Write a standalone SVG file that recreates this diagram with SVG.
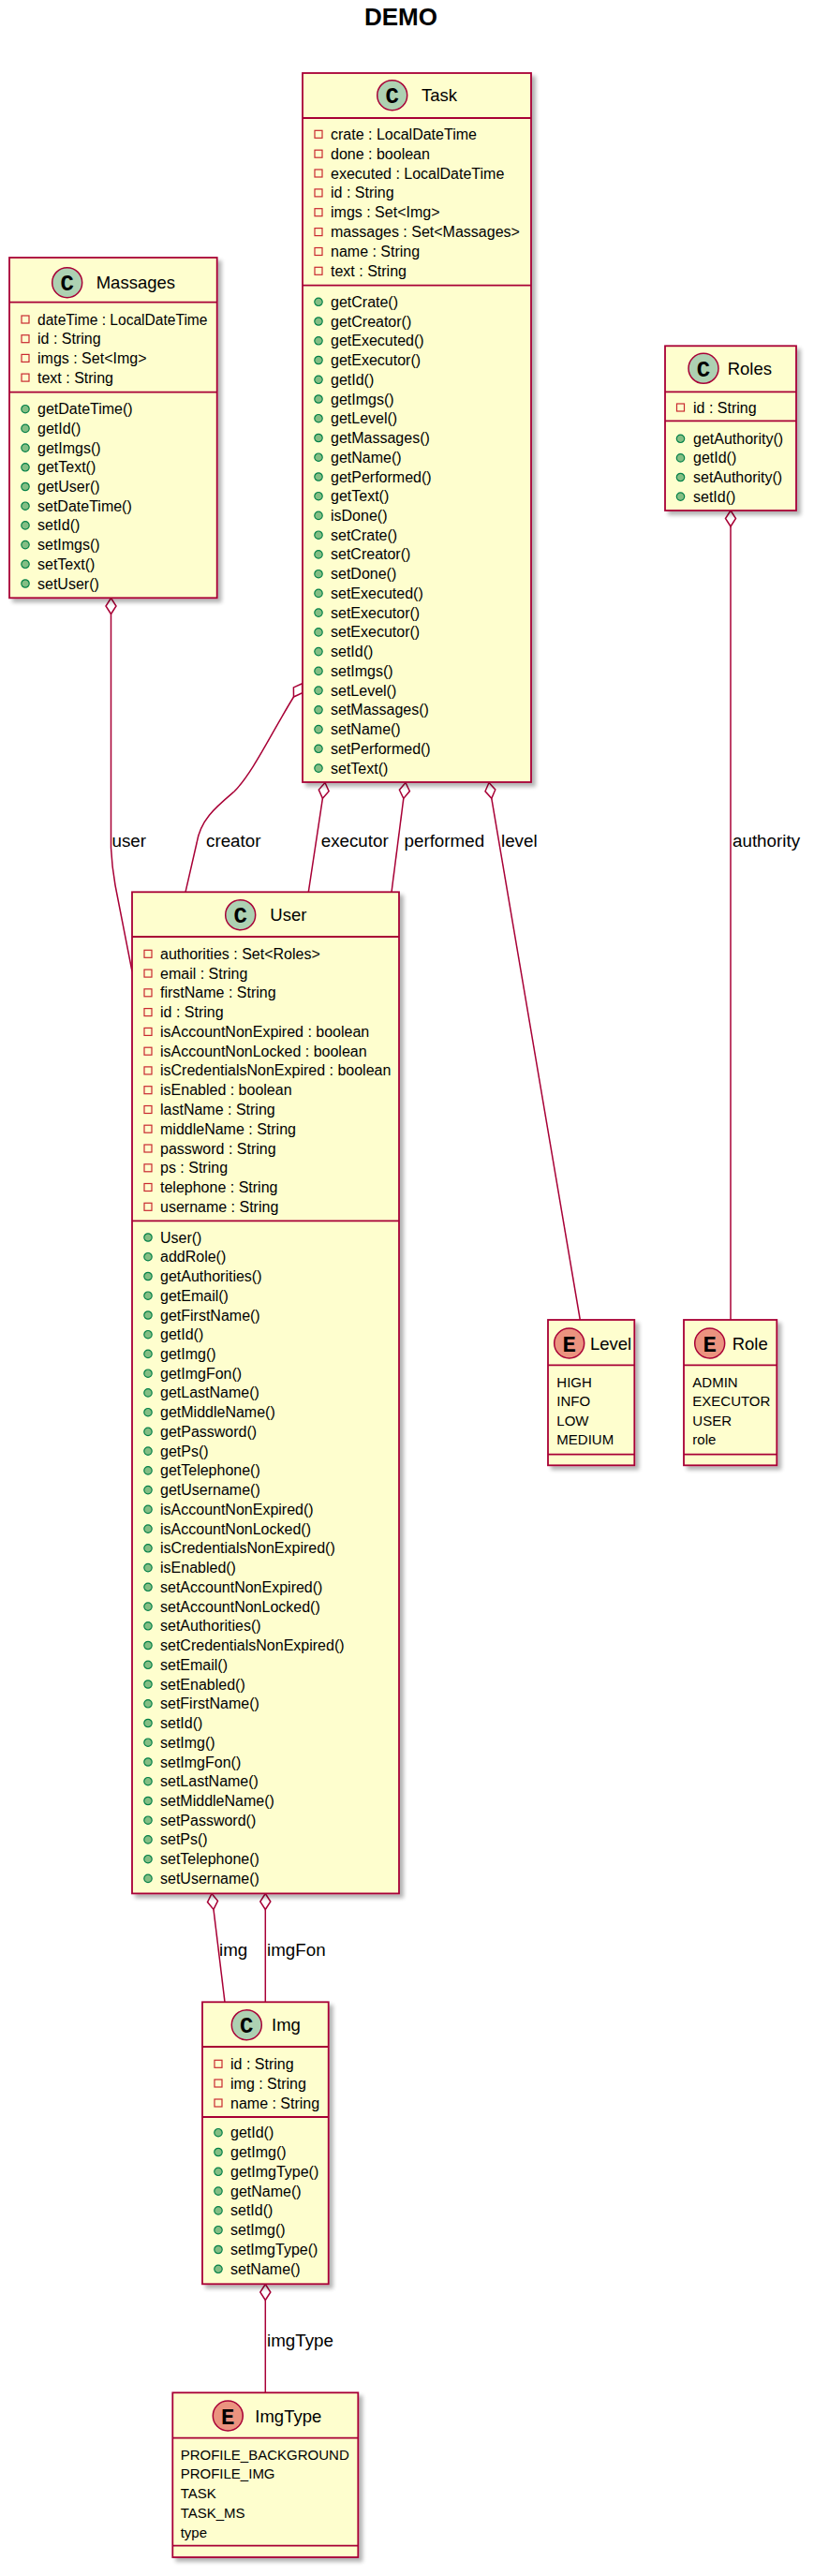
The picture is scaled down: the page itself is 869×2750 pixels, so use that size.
<svg xmlns="http://www.w3.org/2000/svg" xmlns:xlink="http://www.w3.org/1999/xlink" width="869" height="2750" viewBox="0 0 869 2750">
<style>
.box{fill:#FEFECE;stroke:#A80036;stroke-width:1.8}
.sep{stroke:#A80036;stroke-width:1.8}
text{font-family:"Liberation Sans",Arial,sans-serif;fill:#000}
.m{font-size:16px}
.n{font-size:18.5px}
.lbl{font-size:18.8px}
.ev{font-size:15px}
.cc{fill:#ADD1B2;stroke:#A80036;stroke-width:1.5}
.ce{fill:#EB937F;stroke:#A80036;stroke-width:1.5}
.ch{font-family:"Liberation Mono","Courier New",monospace;font-weight:bold;font-size:24px;text-anchor:middle}
.edge{fill:none;stroke:#A80036;stroke-width:1.5}
.dia{fill:#FFFFFF;stroke:#A80036;stroke-width:1.5}
.title{font-size:26px;font-weight:bold;text-anchor:middle}
</style>
<defs>
<filter id="sh" x="-10%" y="-5%" width="130%" height="115%">
<feGaussianBlur in="SourceAlpha" stdDeviation="2"/>
<feOffset dx="4" dy="4"/>
<feComponentTransfer><feFuncA type="linear" slope="0.3"/></feComponentTransfer>
<feMerge><feMergeNode/><feMergeNode in="SourceGraphic"/></feMerge>
</filter>
<rect id="ia" x="0" y="-4" width="8" height="8" fill="none" stroke="#C82930" stroke-width="1.2"/>
<circle id="im" cx="4" cy="0" r="4.2" fill="#84BE84" stroke="#038048" stroke-width="1.2"/>
</defs>
<rect width="869" height="2750" fill="#FFFFFF"/>
<text class="title" x="428" y="27.3">DEMO</text>

<g id="connectors">
<!-- user -->
<path class="edge" d="M118.5,655.5 L118.5,905 Q119.5,925 123,945 L141,1037"/>
<polygon class="dia" points="118.5,638.5 124,647 118.5,655.5 113,647"/>
<text class="lbl" x="119.5" y="903.5">user</text>
<!-- creator -->
<path class="edge" d="M313.5,744 C290,782 270,825 250,845 C230,862 214,875 210,900 L198,952.3"/>
<polygon class="dia" points="322.6,729.7 322.7,739.8 313.5,744 313.4,733.9"/>
<text class="lbl" x="220" y="903.5">creator</text>
<!-- executor -->
<path class="edge" d="M344.4,852.3 L329.3,952.3"/>
<polygon class="dia" points="347,835.5 351.1,844.7 344.4,852.3 340.3,843.1"/>
<text class="lbl" x="342.7" y="903.5">executor</text>
<!-- performed -->
<path class="edge" d="M430.8,852.4 L418,952.3"/>
<polygon class="dia" points="433,835.5 437.4,844.6 430.8,852.4 426.4,843.2"/>
<text class="lbl" x="431.5" y="903.5">performed</text>
<!-- level -->
<path class="edge" d="M524.8,852.3 L619.3,1409"/>
<polygon class="dia" points="522,835.5 528.8,843 524.8,852.3 518,844.8"/>
<text class="lbl" x="535" y="903.5">level</text>
<!-- authority -->
<path class="edge" d="M780,562 L780,1409"/>
<polygon class="dia" points="780,545 785.5,553.5 780,562 774.5,553.5"/>
<text class="lbl" x="782" y="903.5">authority</text>
<!-- img -->
<path class="edge" d="M228,2038.4 L240,2137.3"/>
<polygon class="dia" points="226,2021.5 232.5,2029.3 228,2038.4 221.5,2030.6"/>
<text class="lbl" x="234" y="2088">img</text>
<!-- imgFon -->
<path class="edge" d="M283.3,2038.5 L283.3,2137.3"/>
<polygon class="dia" points="283.3,2021.5 288.8,2030 283.3,2038.5 277.8,2030"/>
<text class="lbl" x="285" y="2088">imgFon</text>
<!-- imgType -->
<path class="edge" d="M283.3,2455.5 L283.3,2554.3"/>
<polygon class="dia" points="283.3,2438.5 288.8,2447 283.3,2455.5 277.8,2447"/>
<text class="lbl" x="285" y="2505">imgType</text>
</g>

<g id="Massages">
<rect class="box" filter="url(#sh)" x="10" y="275" width="221.7" height="363.3"/>
<line class="sep" x1="10" y1="322.7" x2="231.7" y2="322.7"/>
<line class="sep" x1="10" y1="418.7" x2="231.7" y2="418.7"/>
<circle class="cc" cx="71.7" cy="301.7" r="16"/>
<text class="ch" x="71.7" y="310.2">C</text>
<text class="n" x="102.7" y="308.2">Massages</text>
<use xlink:href="#ia" x="23" y="341"/><text class="m" x="40" y="346.5" textLength="181.5" lengthAdjust="spacingAndGlyphs">dateTime : LocalDateTime</text>
<use xlink:href="#ia" x="23" y="361.7"/><text class="m" x="40" y="367.2">id : String</text>
<use xlink:href="#ia" x="23" y="382.4"/><text class="m" x="40" y="387.9">imgs : Set&lt;Img&gt;</text>
<use xlink:href="#ia" x="23" y="403.1"/><text class="m" x="40" y="408.6">text : String</text>
<use xlink:href="#im" x="23" y="436.7"/><text class="m" x="40" y="442.2">getDateTime()</text>
<use xlink:href="#im" x="23" y="457.4"/><text class="m" x="40" y="462.9">getId()</text>
<use xlink:href="#im" x="23" y="478.1"/><text class="m" x="40" y="483.6">getImgs()</text>
<use xlink:href="#im" x="23" y="498.8"/><text class="m" x="40" y="504.3">getText()</text>
<use xlink:href="#im" x="23" y="519.5"/><text class="m" x="40" y="525">getUser()</text>
<use xlink:href="#im" x="23" y="540.2"/><text class="m" x="40" y="545.7">setDateTime()</text>
<use xlink:href="#im" x="23" y="560.9"/><text class="m" x="40" y="566.4">setId()</text>
<use xlink:href="#im" x="23" y="581.6"/><text class="m" x="40" y="587.1">setImgs()</text>
<use xlink:href="#im" x="23" y="602.3"/><text class="m" x="40" y="607.8">setText()</text>
<use xlink:href="#im" x="23" y="623"/><text class="m" x="40" y="628.5">setUser()</text>
</g>

<g id="Task">
<rect class="box" filter="url(#sh)" x="323" y="78" width="244" height="757"/>
<line class="sep" x1="323" y1="126" x2="567" y2="126"/>
<line class="sep" x1="323" y1="304.7" x2="567" y2="304.7"/>
<circle class="cc" cx="418.7" cy="101.7" r="16"/>
<text class="ch" x="418.7" y="110.2">C</text>
<text class="n" x="450" y="108.2">Task</text>
<use xlink:href="#ia" x="336" y="143.3"/><text class="m" x="353" y="148.8">crate : LocalDateTime</text>
<use xlink:href="#ia" x="336" y="164.2"/><text class="m" x="353" y="169.7">done : boolean</text>
<use xlink:href="#ia" x="336" y="185"/><text class="m" x="353" y="190.5">executed : LocalDateTime</text>
<use xlink:href="#ia" x="336" y="205.9"/><text class="m" x="353" y="211.4">id : String</text>
<use xlink:href="#ia" x="336" y="226.7"/><text class="m" x="353" y="232.2">imgs : Set&lt;Img&gt;</text>
<use xlink:href="#ia" x="336" y="247.6"/><text class="m" x="353" y="253.1">massages : Set&lt;Massages&gt;</text>
<use xlink:href="#ia" x="336" y="268.5"/><text class="m" x="353" y="274">name : String</text>
<use xlink:href="#ia" x="336" y="289.3"/><text class="m" x="353" y="294.8">text : String</text>
<use xlink:href="#im" x="336" y="322.3"/><text class="m" x="353" y="327.8">getCrate()</text>
<use xlink:href="#im" x="336" y="343"/><text class="m" x="353" y="348.5">getCreator()</text>
<use xlink:href="#im" x="336" y="363.8"/><text class="m" x="353" y="369.3">getExecuted()</text>
<use xlink:href="#im" x="336" y="384.5"/><text class="m" x="353" y="390">getExecutor()</text>
<use xlink:href="#im" x="336" y="405.3"/><text class="m" x="353" y="410.8">getId()</text>
<use xlink:href="#im" x="336" y="426"/><text class="m" x="353" y="431.5">getImgs()</text>
<use xlink:href="#im" x="336" y="446.7"/><text class="m" x="353" y="452.2">getLevel()</text>
<use xlink:href="#im" x="336" y="467.5"/><text class="m" x="353" y="473">getMassages()</text>
<use xlink:href="#im" x="336" y="488.2"/><text class="m" x="353" y="493.7">getName()</text>
<use xlink:href="#im" x="336" y="509"/><text class="m" x="353" y="514.5">getPerformed()</text>
<use xlink:href="#im" x="336" y="529.7"/><text class="m" x="353" y="535.2">getText()</text>
<use xlink:href="#im" x="336" y="550.4"/><text class="m" x="353" y="555.9">isDone()</text>
<use xlink:href="#im" x="336" y="571.2"/><text class="m" x="353" y="576.7">setCrate()</text>
<use xlink:href="#im" x="336" y="591.9"/><text class="m" x="353" y="597.4">setCreator()</text>
<use xlink:href="#im" x="336" y="612.7"/><text class="m" x="353" y="618.2">setDone()</text>
<use xlink:href="#im" x="336" y="633.4"/><text class="m" x="353" y="638.9">setExecuted()</text>
<use xlink:href="#im" x="336" y="654.1"/><text class="m" x="353" y="659.6">setExecutor()</text>
<use xlink:href="#im" x="336" y="674.9"/><text class="m" x="353" y="680.4">setExecutor()</text>
<use xlink:href="#im" x="336" y="695.6"/><text class="m" x="353" y="701.1">setId()</text>
<use xlink:href="#im" x="336" y="716.4"/><text class="m" x="353" y="721.9">setImgs()</text>
<use xlink:href="#im" x="336" y="737.1"/><text class="m" x="353" y="742.6">setLevel()</text>
<use xlink:href="#im" x="336" y="757.8"/><text class="m" x="353" y="763.3">setMassages()</text>
<use xlink:href="#im" x="336" y="778.6"/><text class="m" x="353" y="784.1">setName()</text>
<use xlink:href="#im" x="336" y="799.3"/><text class="m" x="353" y="804.8">setPerformed()</text>
<use xlink:href="#im" x="336" y="820.1"/><text class="m" x="353" y="825.6">setText()</text>
</g>

<g id="Roles">
<rect class="box" filter="url(#sh)" x="710" y="369.3" width="140" height="175.7"/>
<line class="sep" x1="710" y1="418.3" x2="850" y2="418.3"/>
<line class="sep" x1="710" y1="449.3" x2="850" y2="449.3"/>
<circle class="cc" cx="751" cy="393.3" r="16"/>
<text class="ch" x="751" y="401.8">C</text>
<text class="n" x="776.7" y="399.8">Roles</text>
<use xlink:href="#ia" x="722.5" y="435"/><text class="m" x="740" y="440.5">id : String</text>
<use xlink:href="#im" x="722.5" y="468.3"/><text class="m" x="740" y="473.8">getAuthority()</text>
<use xlink:href="#im" x="722.5" y="488.9"/><text class="m" x="740" y="494.4">getId()</text>
<use xlink:href="#im" x="722.5" y="509.5"/><text class="m" x="740" y="515">setAuthority()</text>
<use xlink:href="#im" x="722.5" y="530.1"/><text class="m" x="740" y="535.6">setId()</text>
</g>

<g id="User">
<rect class="box" filter="url(#sh)" x="141" y="952.3" width="285" height="1069.1"/>
<line class="sep" x1="141" y1="1000" x2="426" y2="1000"/>
<line class="sep" x1="141" y1="1303.3" x2="426" y2="1303.3"/>
<circle class="cc" cx="256.7" cy="976.7" r="16"/>
<text class="ch" x="256.7" y="985.2">C</text>
<text class="n" x="288.3" y="983.2">User</text>
<use xlink:href="#ia" x="154" y="1018.3"/><text class="m" x="171" y="1023.8">authorities : Set&lt;Roles&gt;</text>
<use xlink:href="#ia" x="154" y="1039.1"/><text class="m" x="171" y="1044.6">email : String</text>
<use xlink:href="#ia" x="154" y="1059.8"/><text class="m" x="171" y="1065.3">firstName : String</text>
<use xlink:href="#ia" x="154" y="1080.6"/><text class="m" x="171" y="1086.1">id : String</text>
<use xlink:href="#ia" x="154" y="1101.4"/><text class="m" x="171" y="1106.9">isAccountNonExpired : boolean</text>
<use xlink:href="#ia" x="154" y="1122.2"/><text class="m" x="171" y="1127.7">isAccountNonLocked : boolean</text>
<use xlink:href="#ia" x="154" y="1142.9"/><text class="m" x="171" y="1148.4">isCredentialsNonExpired : boolean</text>
<use xlink:href="#ia" x="154" y="1163.7"/><text class="m" x="171" y="1169.2">isEnabled : boolean</text>
<use xlink:href="#ia" x="154" y="1184.5"/><text class="m" x="171" y="1190">lastName : String</text>
<use xlink:href="#ia" x="154" y="1205.2"/><text class="m" x="171" y="1210.7">middleName : String</text>
<use xlink:href="#ia" x="154" y="1226"/><text class="m" x="171" y="1231.5">password : String</text>
<use xlink:href="#ia" x="154" y="1246.8"/><text class="m" x="171" y="1252.3">ps : String</text>
<use xlink:href="#ia" x="154" y="1267.5"/><text class="m" x="171" y="1273">telephone : String</text>
<use xlink:href="#ia" x="154" y="1288.3"/><text class="m" x="171" y="1293.8">username : String</text>
<use xlink:href="#im" x="154" y="1321"/><text class="m" x="171" y="1326.5">User()</text>
<use xlink:href="#im" x="154" y="1341.7"/><text class="m" x="171" y="1347.2">addRole()</text>
<use xlink:href="#im" x="154" y="1362.5"/><text class="m" x="171" y="1368">getAuthorities()</text>
<use xlink:href="#im" x="154" y="1383.2"/><text class="m" x="171" y="1388.7">getEmail()</text>
<use xlink:href="#im" x="154" y="1404"/><text class="m" x="171" y="1409.5">getFirstName()</text>
<use xlink:href="#im" x="154" y="1424.7"/><text class="m" x="171" y="1430.2">getId()</text>
<use xlink:href="#im" x="154" y="1445.4"/><text class="m" x="171" y="1450.9">getImg()</text>
<use xlink:href="#im" x="154" y="1466.2"/><text class="m" x="171" y="1471.7">getImgFon()</text>
<use xlink:href="#im" x="154" y="1486.9"/><text class="m" x="171" y="1492.4">getLastName()</text>
<use xlink:href="#im" x="154" y="1507.7"/><text class="m" x="171" y="1513.2">getMiddleName()</text>
<use xlink:href="#im" x="154" y="1528.4"/><text class="m" x="171" y="1533.9">getPassword()</text>
<use xlink:href="#im" x="154" y="1549.1"/><text class="m" x="171" y="1554.6">getPs()</text>
<use xlink:href="#im" x="154" y="1569.9"/><text class="m" x="171" y="1575.4">getTelephone()</text>
<use xlink:href="#im" x="154" y="1590.6"/><text class="m" x="171" y="1596.1">getUsername()</text>
<use xlink:href="#im" x="154" y="1611.4"/><text class="m" x="171" y="1616.9">isAccountNonExpired()</text>
<use xlink:href="#im" x="154" y="1632.1"/><text class="m" x="171" y="1637.6">isAccountNonLocked()</text>
<use xlink:href="#im" x="154" y="1652.8"/><text class="m" x="171" y="1658.3">isCredentialsNonExpired()</text>
<use xlink:href="#im" x="154" y="1673.6"/><text class="m" x="171" y="1679.1">isEnabled()</text>
<use xlink:href="#im" x="154" y="1694.3"/><text class="m" x="171" y="1699.8">setAccountNonExpired()</text>
<use xlink:href="#im" x="154" y="1715.1"/><text class="m" x="171" y="1720.6">setAccountNonLocked()</text>
<use xlink:href="#im" x="154" y="1735.8"/><text class="m" x="171" y="1741.3">setAuthorities()</text>
<use xlink:href="#im" x="154" y="1756.5"/><text class="m" x="171" y="1762">setCredentialsNonExpired()</text>
<use xlink:href="#im" x="154" y="1777.3"/><text class="m" x="171" y="1782.8">setEmail()</text>
<use xlink:href="#im" x="154" y="1798"/><text class="m" x="171" y="1803.5">setEnabled()</text>
<use xlink:href="#im" x="154" y="1818.8"/><text class="m" x="171" y="1824.3">setFirstName()</text>
<use xlink:href="#im" x="154" y="1839.5"/><text class="m" x="171" y="1845">setId()</text>
<use xlink:href="#im" x="154" y="1860.2"/><text class="m" x="171" y="1865.7">setImg()</text>
<use xlink:href="#im" x="154" y="1881"/><text class="m" x="171" y="1886.5">setImgFon()</text>
<use xlink:href="#im" x="154" y="1901.7"/><text class="m" x="171" y="1907.2">setLastName()</text>
<use xlink:href="#im" x="154" y="1922.5"/><text class="m" x="171" y="1928">setMiddleName()</text>
<use xlink:href="#im" x="154" y="1943.2"/><text class="m" x="171" y="1948.7">setPassword()</text>
<use xlink:href="#im" x="154" y="1963.9"/><text class="m" x="171" y="1969.4">setPs()</text>
<use xlink:href="#im" x="154" y="1984.7"/><text class="m" x="171" y="1990.2">setTelephone()</text>
<use xlink:href="#im" x="154" y="2005.4"/><text class="m" x="171" y="2010.9">setUsername()</text>
</g>

<g id="Level">
<rect class="box" filter="url(#sh)" x="585" y="1409" width="92.3" height="155.3"/>
<line class="sep" x1="585" y1="1457.3" x2="677.3" y2="1457.3"/>
<line class="sep" x1="585" y1="1552.7" x2="677.3" y2="1552.7"/>
<circle class="ce" cx="607.7" cy="1434" r="16"/>
<text class="ch" x="607.7" y="1442.5">E</text>
<text class="n" x="630" y="1440.5">Level</text>
<text class="m ev" x="594.3" y="1480.5">HIGH</text>
<text class="m ev" x="594.3" y="1501.2">INFO</text>
<text class="m ev" x="594.3" y="1522.2">LOW</text>
<text class="m ev" x="594.3" y="1542.2">MEDIUM</text>
</g>

<g id="Role">
<rect class="box" filter="url(#sh)" x="730" y="1409" width="99.3" height="155.3"/>
<line class="sep" x1="730" y1="1457.3" x2="829.3" y2="1457.3"/>
<line class="sep" x1="730" y1="1552.7" x2="829.3" y2="1552.7"/>
<circle class="ce" cx="757.7" cy="1434" r="16"/>
<text class="ch" x="757.7" y="1442.5">E</text>
<text class="n" x="781.7" y="1440.5">Role</text>
<text class="m ev" x="739.3" y="1480.5">ADMIN</text>
<text class="m ev" x="739.3" y="1501.2">EXECUTOR</text>
<text class="m ev" x="739.3" y="1522.2">USER</text>
<text class="m ev" x="739.3" y="1542.2">role</text>
</g>

<g id="Img">
<rect class="box" filter="url(#sh)" x="216" y="2137.3" width="134.7" height="301"/>
<line class="sep" x1="216" y1="2185" x2="350.7" y2="2185"/>
<line class="sep" x1="216" y1="2260" x2="350.7" y2="2260"/>
<circle class="cc" cx="263.3" cy="2161.7" r="16"/>
<text class="ch" x="263.3" y="2170.2">C</text>
<text class="n" x="290" y="2168.2">Img</text>
<use xlink:href="#ia" x="229" y="2203.3"/><text class="m" x="246" y="2208.8">id : String</text>
<use xlink:href="#ia" x="229" y="2224"/><text class="m" x="246" y="2229.5">img : String</text>
<use xlink:href="#ia" x="229" y="2245"/><text class="m" x="246" y="2250.5">name : String</text>
<use xlink:href="#im" x="229" y="2276.7"/><text class="m" x="246" y="2282.2">getId()</text>
<use xlink:href="#im" x="229" y="2297.5"/><text class="m" x="246" y="2303">getImg()</text>
<use xlink:href="#im" x="229" y="2318.3"/><text class="m" x="246" y="2323.8">getImgType()</text>
<use xlink:href="#im" x="229" y="2339.1"/><text class="m" x="246" y="2344.6">getName()</text>
<use xlink:href="#im" x="229" y="2359.9"/><text class="m" x="246" y="2365.4">setId()</text>
<use xlink:href="#im" x="229" y="2380.7"/><text class="m" x="246" y="2386.2">setImg()</text>
<use xlink:href="#im" x="229" y="2401.5"/><text class="m" x="246" y="2407">setImgType()</text>
<use xlink:href="#im" x="229" y="2422.3"/><text class="m" x="246" y="2427.8">setName()</text>
</g>

<g id="ImgType">
<rect class="box" filter="url(#sh)" x="184.3" y="2554.3" width="198" height="175.7"/>
<line class="sep" x1="184.3" y1="2602.7" x2="382.3" y2="2602.7"/>
<line class="sep" x1="184.3" y1="2717.7" x2="382.3" y2="2717.7"/>
<circle class="ce" cx="243.3" cy="2579" r="16"/>
<text class="ch" x="243.3" y="2587.5">E</text>
<text class="n" x="272.3" y="2585.5">ImgType</text>
<text class="m ev" x="192.7" y="2625.5">PROFILE_BACKGROUND</text>
<text class="m ev" x="192.7" y="2646.2">PROFILE_IMG</text>
<text class="m ev" x="192.7" y="2666.8">TASK</text>
<text class="m ev" x="192.7" y="2687.8">TASK_MS</text>
<text class="m ev" x="192.7" y="2708.8">type</text>
</g>
</svg>
